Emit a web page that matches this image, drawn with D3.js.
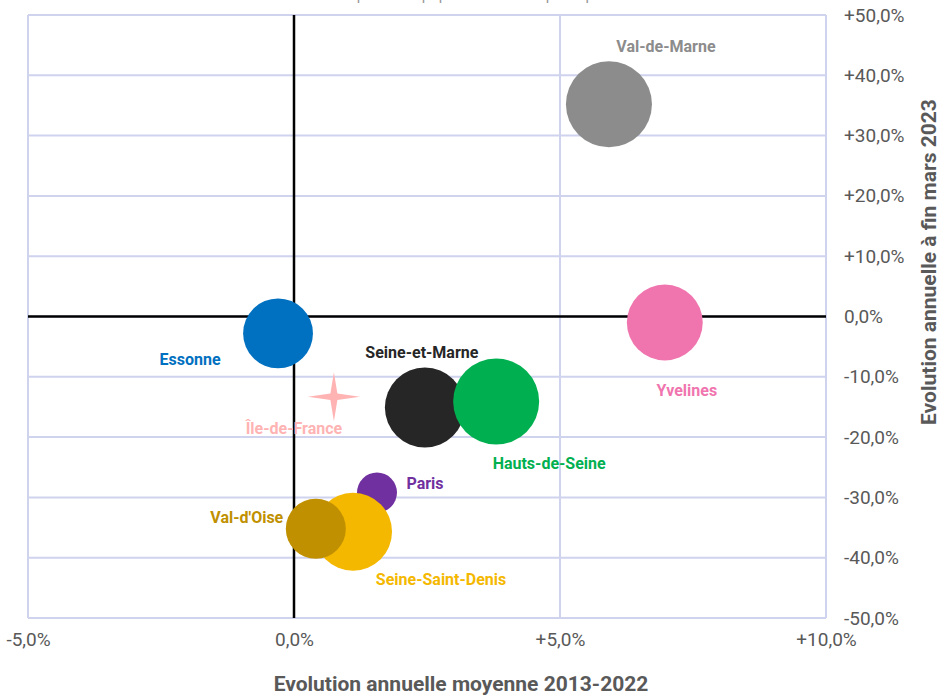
<!DOCTYPE html>
<html><head><meta charset="utf-8">
<script src="https://cdn.jsdelivr.net/npm/d3@7"></script>
<style>
html,body{margin:0;padding:0;background:#fff;overflow:hidden}
text{font-family:Roboto,"Noto Sans",sans-serif}
</style></head>
<body><svg id="c" width="937" height="695"></svg>
<script>
const departements = ["Val-de-Marne","Yvelines","Essonne","Seine-et-Marne","Hauts-de-Seine","Paris","Seine-Saint-Denis","Val-d'Oise"];
const evolMoyenne = [5.92, 6.97, -0.30, 2.46, 3.80, 1.56, 1.11, 0.41];   // x, %
const evolMars2023 = [35.2, -1.0, -2.8, -15.1, -14.1, -29.2, -35.7, -35.2]; // y, %
const tailles = [185, 144, 122, 160, 185, 40, 152, 90];
const couleurs = ["#8c8c8c","#f075ae","#0070c0","#262626","#00b050","#7030a0","#f4b800","#c09000"];
const regionNom = "Île-de-France";
const regionX = 0.75, regionY = -13.3;
const xTicks = [-5, 0, 5, 10];
const yTicks = [50, 40, 30, 20, 10, 0, -10, -20, -30, -40, -50];
const titreX = "Evolution annuelle moyenne 2013-2022";
const titreY = "Evolution annuelle à fin mars 2023";
const sousTitre = "La taille des bulles correspond à la population de chaque département en 2022";

const svg = d3.select("#c");
const x = d3.scaleLinear().domain([-5, 10]).range([28, 826]);
const y = d3.scaleLinear().domain([-50, 50]).range([618, 15]);
const r = d3.scaleSqrt().domain([0, 185]).range([0, 43]);
const fmt = v => (v > 0 ? "+" : (v < 0 ? "-" : "")) + d3.format(".1f")(Math.abs(v)).replace(".", ",") + "%";

svg.append("text").attr("x", 450).attr("y", 0).attr("text-anchor", "middle")
  .attr("font-size", 15).attr("fill", "#999").text(sousTitre);

const grid = svg.append("g");
grid.selectAll(".h").data(yTicks).join("line")
  .attr("x1", x(-5)).attr("x2", x(10)).attr("y1", d => y(d)).attr("y2", d => y(d))
  .attr("stroke", "#cfd3ee").attr("stroke-width", 2);
grid.selectAll(".v").data(xTicks).join("line")
  .attr("y1", y(50)).attr("y2", y(-50)).attr("x1", d => x(d)).attr("x2", d => x(d))
  .attr("stroke", "#cfd3ee").attr("stroke-width", 2);
// zero lines
svg.append("line").attr("x1", x(-5)).attr("x2", x(10)).attr("y1", y(0)).attr("y2", y(0))
  .attr("stroke", "#000").attr("stroke-width", 2.5);
svg.append("line").attr("y1", y(50)).attr("y2", y(-50)).attr("x1", x(0)).attr("x2", x(0))
  .attr("stroke", "#000").attr("stroke-width", 2.5);

// axes labels using d3 axes
const yAxis = svg.append("g").attr("transform", `translate(${x(10) + 18},0)`)
  .call(d3.axisRight(y).tickValues(yTicks).tickFormat(fmt).tickSize(0).tickPadding(0));
yAxis.select(".domain").remove();
yAxis.selectAll("text").attr("font-size", 19).attr("fill", "#595959").attr("font-family", "Roboto");

const xAxis = svg.append("g").attr("transform", `translate(0,${y(-50) + 14})`)
  .call(d3.axisBottom(x).tickValues(xTicks).tickFormat(fmt).tickSize(0).tickPadding(0));
xAxis.select(".domain").remove();
xAxis.selectAll("text").attr("font-size", 19).attr("fill", "#595959").attr("font-family", "Roboto");

svg.append("text").attr("x", 461).attr("y", 691).attr("text-anchor", "middle")
  .attr("font-size", 21).attr("font-weight", "bold").attr("fill", "#595959").text(titreX);
svg.append("text").attr("transform", `translate(936,262) rotate(-90)`).attr("text-anchor", "middle")
  .attr("font-size", 21).attr("font-weight", "bold").attr("fill", "#595959").text(titreY);

// bubbles
const data = departements.map((d, i) => ({nom: d, x: evolMoyenne[i], y: evolMars2023[i], s: tailles[i], c: couleurs[i]}));
svg.append("g").selectAll("circle").data(data).join("circle")
  .attr("cx", d => x(d.x)).attr("cy", d => y(d.y)).attr("r", d => r(d.s)).attr("fill", d => d.c);

// star for region
const star4 = {draw(ctx, size) {
  const R = Math.sqrt(size), ri = R * 0.19;
  for (let k = 0; k < 8; k++) {
    const a = k * Math.PI / 4 - Math.PI / 2, rr = k % 2 ? ri : R;
    const px = rr * Math.cos(a), py = rr * Math.sin(a);
    k ? ctx.lineTo(px, py) : ctx.moveTo(px, py);
  }
  ctx.closePath();
}};
svg.append("path").attr("d", d3.symbol(star4, 26 * 26)())
  .attr("transform", `translate(${x(regionX)},${y(regionY)}) scale(1,0.94)`).attr("fill", "#ffb3b3");

// labels (offsets relative to bubble center)
const labelOffsets = [[57,-58],[22,67],[-88,26],[-3,-56],[53,61],[48,-10],[88,47],[-69,-12]];
svg.append("g").selectAll("text").data(data).join("text")
  .attr("x", (d, i) => x(d.x) + labelOffsets[i][0]).attr("y", (d, i) => y(d.y) + labelOffsets[i][1] + 6)
  .attr("text-anchor", "middle").attr("font-size", 16).attr("font-weight", "bold")
  .attr("fill", d => d.c).text(d => d.nom);
svg.append("text").attr("x", x(regionX) - 40).attr("y", y(regionY) + 37).attr("text-anchor", "middle")
  .attr("font-size", 16).attr("font-weight", "bold").attr("fill", "#ffb3b3").text(regionNom);
</script></body></html>
